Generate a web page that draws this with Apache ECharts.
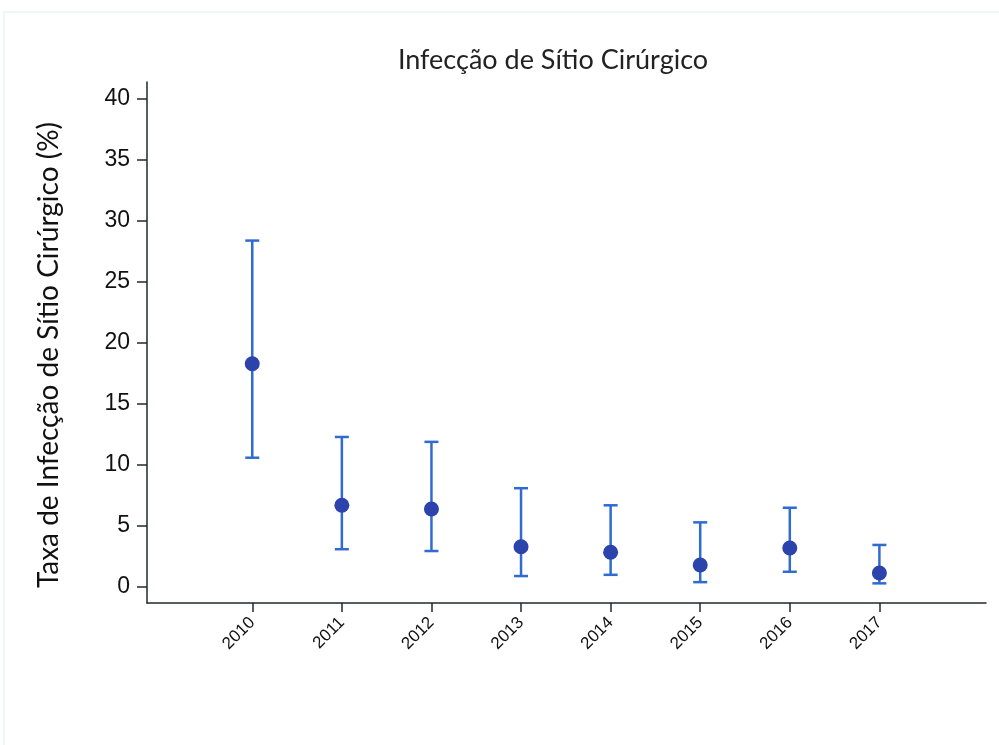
<!DOCTYPE html>
<html><head><meta charset="utf-8">
<script src="https://cdn.jsdelivr.net/npm/echarts@6/dist/echarts.min.js"></script>
<style>html,body{margin:0;padding:0;background:#fff}#c{width:999px;height:745px}</style>
</head><body><div id="c"></div>
<script>
const years = [2010, 2011, 2012, 2013, 2014, 2015, 2016, 2017];
const rate = [18.3, 6.7, 6.4, 3.3, 2.85, 1.8, 3.2, 1.15];
const lower = [10.6, 3.1, 2.95, 0.9, 1.0, 0.4, 1.25, 0.3];
const upper = [28.4, 12.3, 11.9, 8.1, 6.7, 5.3, 6.5, 3.45];
const yTicks = [0, 5, 10, 15, 20, 25, 30, 35, 40];
const titleText = 'Infecção de Sítio Cirúrgico';
const yName = 'Taxa de Infecção de Sítio Cirúrgico (%)';

const chart = echarts.init(document.getElementById('c'), null, {renderer: 'canvas'});
const barData = years.map((y, i) => [y, lower[i], upper[i]]);
const ptData = years.map((y, i) => [y, rate[i]]);
const axisColor = '#1f2a2e';
const labelFont = 'Lato';
chart.setOption({
  backgroundColor: '#ffffff',
  animation: false,
  graphic: [{type: 'rect', shape: {x: 4, y: 12, width: 1000, height: 740}, style: {fill: 'none', stroke: '#eef6f6', lineWidth: 2}, silent: true}],
  title: {text: titleText, left: 548, top: 42, textAlign: 'center',
    textStyle: {fontFamily: labelFont, fontWeight: 'normal', fontSize: 27, color: '#222'}},
  grid: {left: 147, right: 13, top: 82, bottom: 142, containLabel: false},
  xAxis: {type: 'value', min: 2008.825, max: 2018.19,
    axisLine: {show: true, onZero: false, lineStyle: {color: axisColor, width: 1.5}},
    axisTick: {show: true, length: 9, inside: false, customValues: years, lineStyle: {color: axisColor, width: 1.5}},
    axisLabel: {customValues: years, rotate: 45, margin: 17, fontFamily: 'Liberation Sans', fontSize: 17, color: '#111',
      formatter: function (v) { return String(v); }},
    splitLine: {show: false}},
  yAxis: {type: 'value', min: -1.31, max: 41.4,
    name: yName, nameLocation: 'middle', nameGap: 84,
    nameTextStyle: {fontFamily: labelFont, fontSize: 28, color: '#111', padding: [0, 25, 0, 0]},
    axisLine: {show: true, onZero: false, lineStyle: {color: axisColor, width: 1.5}},
    axisTick: {show: true, length: 10, customValues: yTicks, lineStyle: {color: axisColor, width: 1.5}},
    axisLabel: {customValues: yTicks, margin: 17, fontFamily: 'Liberation Sans', fontSize: 23, color: '#111',
      formatter: function (v) { return String(v); }},
    splitLine: {show: false}},
  series: [{
    type: 'custom', data: barData, z: 2,
    renderItem: function (params, api) {
      const x = api.value(0);
      const lo = api.coord([x, api.value(1)]);
      const hi = api.coord([x, api.value(2)]);
      const w = 7;
      const st = {stroke: '#2f6bd0', lineWidth: 2.5};
      return {type: 'group', children: [
        {type: 'line', shape: {x1: lo[0], y1: lo[1], x2: hi[0], y2: hi[1]}, style: st},
        {type: 'line', shape: {x1: lo[0] - w, y1: lo[1], x2: lo[0] + w, y2: lo[1]}, style: st},
        {type: 'line', shape: {x1: hi[0] - w, y1: hi[1], x2: hi[0] + w, y2: hi[1]}, style: st}
      ]};
    }
  }, {
    type: 'scatter', data: ptData, symbol: 'circle', symbolSize: 15, z: 3,
    itemStyle: {color: '#2b43aa', opacity: 1}
  }]
});
</script></body></html>
